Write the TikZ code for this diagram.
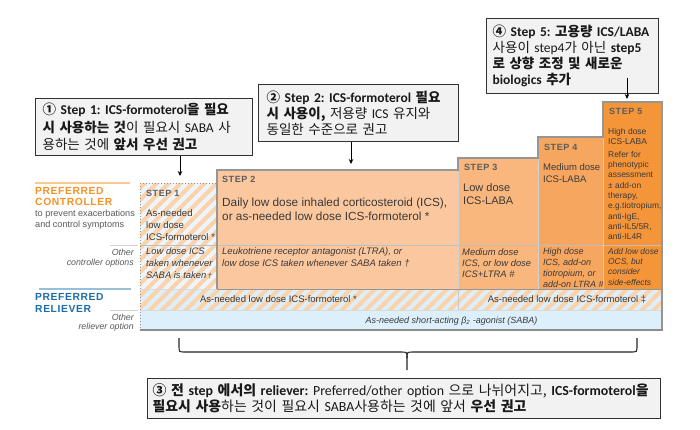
\documentclass[tikz,border=0pt]{standalone}
\usepackage{fontspec}
\setmainfont{Liberation Sans}
\newfontfamily\krf{Noto Sans CJK KR}
\newfontfamily\calf{Carlito}
\newfontfamily\spacedf[LetterSpace=6]{Liberation Sans}
\newcommand\K[1]{{\krf #1}}
\usetikzlibrary{arrows.meta}
\frenchspacing
\definecolor{s2}{RGB}{251,199,158}
\definecolor{s3}{RGB}{249,182,125}
\definecolor{s4}{RGB}{247,166,96}
\definecolor{s5}{RGB}{245,149,58}
\definecolor{stripe}{RGB}{251,210,170}
\definecolor{lblue}{RGB}{221,239,251}
\definecolor{pale}{RGB}{236,245,252}
\definecolor{ctrl}{RGB}{247,146,38}
\definecolor{relv}{RGB}{28,110,168}
\definecolor{txt}{RGB}{58,58,58}
\definecolor{stepg}{RGB}{92,92,92}
\definecolor{frame}{RGB}{150,150,150}
\definecolor{cfill}{RGB}{242,242,242}
\definecolor{cdraw}{RGB}{50,50,50}
\begin{document}
\frenchspacing
\begin{tikzpicture}[x=1pt,y=-1pt,
  callout/.style={draw=cdraw, line width=1.3pt, fill=cfill, anchor=north west, inner ysep=0pt, align=left, text=black!90},
  arr/.style={-{Stealth[length=5pt,width=4.5pt]}, line width=0.9pt, black},
  steplabel/.style={font=\spacedf\fontsize{9}{10}\selectfont\bfseries, text=stepg, anchor=west, inner sep=0pt},
  cell/.style={anchor=north west, inner sep=0pt, align=left, text=txt},
  rcell/.style={anchor=north east, inner sep=0pt, align=right, text=txt},
  stripeline/.style={stripe, line width=4pt}
]
\fill[white] (0,0) rectangle (700,429);
\useasboundingbox (0,0) rectangle (700,429);

% ---------- step fills ----------
\fill[s2] (217,170) rectangle (458,289);
\fill[s3] (458,158) rectangle (538,289);
\fill[s4] (538,137) rectangle (603,289);
\fill[s5] (603,102) rectangle (662,289);
\fill[lblue] (140,310) rectangle (662,330);
\begin{scope}
  \clip (140,183) rectangle (217,289) (140,289) rectangle (662,310);
  \fill[pale] (140,183) rectangle (217,289);
  \fill[lblue] (140,289) rectangle (662,310);
  \foreach \i in {-60,-48,...,680} \draw[stripeline] (\i,340) -- ++(170,-170);
\end{scope}

% ---------- grid lines ----------
\draw[black!25, line width=0.6pt] (140,245) -- (662,245);
\draw[black!18, line width=0.6pt] (538,137) -- (538,289) (603,102) -- (603,289) (458,158) -- (458,289);
\draw[black!22, line width=0.6pt] (458,289) -- (458,310);
\draw[frame, line width=0.8pt] (217,289) -- (662,289);
\draw[black!15, line width=0.6pt] (140,289) -- (217,289) (140,310) -- (662,310);
\draw[frame, line width=1.2pt] (217,289) -- (217,170) -- (458,170) -- (458,158) -- (538,158) -- (538,137) -- (603,137) -- (603,102) -- (662,102) -- (662,330);
\draw[black!45, line width=1.5pt] (140,330) -- (663,330);
\draw[frame, dotted, line width=1pt] (140,183) -- (140,330) (140,183) -- (217,183);

% ---------- left labels ----------
\draw[ctrl!50, line width=1.2pt] (35,183) -- (130,183);
\draw[black!18, line width=0.8pt] (110,245) -- (138,245) (110,310) -- (138,310);
\draw[relv!45, line width=1.2pt] (39,289) -- (131,289);
\node[cell, text=ctrl, font=\spacedf\fontsize{10.3}{11.5}\selectfont\bfseries] (lc) at (35,187) {PREFERRED\\CONTROLLER};
\node[cell, text=black!65, font=\fontsize{9.1}{11}\selectfont] (lcs) at (35,209.5) {to prevent exacerbations\\and control symptoms};
\node[rcell, text=black!65, font=\fontsize{8.8}{10.5}\selectfont\itshape] (lco) at (134,248.5) {Other\\controller options};
\node[cell, text=relv, font=\spacedf\fontsize{10.3}{11.5}\selectfont\bfseries] (lr) at (35,293.5) {PREFERRED\\RELIEVER};
\node[rcell, text=black!65, font=\fontsize{8.8}{9.8}\selectfont\itshape] (lro) at (134,313.5) {Other\\reliever option};

% ---------- step 1 ----------
\node[steplabel] (st1) at (146,193) {STEP 1};
\node[cell, font=\fontsize{9.6}{12}\selectfont] (t1) at (146,209.3) {As-needed\\low dose\\ICS-formoterol *};
\node[cell, font=\fontsize{9.4}{12}\selectfont\itshape] (o1) at (146,247.5) {Low dose ICS\\taken whenever\\SABA is taken\,{\scriptsize †}};

% ---------- step 2 ----------
\node[steplabel] (st2) at (222,179) {STEP 2};
\node[cell, font=\fontsize{11.8}{14}\selectfont] (t2) at (222,197.6) {Daily low dose inhaled corticosteroid (ICS),\\or as-needed low dose ICS-formoterol *};
\node[cell, font=\fontsize{9.5}{11.5}\selectfont\itshape] (o2) at (222,247.5) {Leukotriene receptor antagonist (LTRA), or\\low dose ICS taken whenever SABA taken †};

% ---------- step 3 ----------
\node[steplabel] (st3) at (464,167) {STEP 3};
\node[cell, font=\fontsize{11}{13}\selectfont] (t3) at (463,183) {Low dose\\ICS-LABA};
\node[cell, font=\fontsize{9.4}{11}\selectfont\itshape] (o3) at (462,248.5) {Medium dose\\ICS, or low dose\\ICS+LTRA \#};

% ---------- step 4 ----------
\node[steplabel] (st4) at (544,147) {STEP 4};
\node[cell, font=\fontsize{9.5}{12}\selectfont] (t4) at (543,163.5) {Medium dose\\ICS-LABA};
\node[cell, font=\fontsize{9}{11}\selectfont\itshape] (o4) at (543,247.6) {High dose\\ICS, add-on\\tiotropium, or\\add-on LTRA \#};

% ---------- step 5 ----------
\node[steplabel] (st5) at (609,111) {STEP 5};
\node[cell, font=\fontsize{8.5}{10}\selectfont] (t5) at (608,127.8) {High dose\\ICS-LABA};
\node[cell, font=\fontsize{8.4}{10.35}\selectfont] (r5) at (608,150.8) {Refer for\\phenotypic\\assessment\\± add-on\\therapy,\\e.g.tiotropium,\\anti-IgE,\\anti-IL5/5R,\\anti-IL4R};
\node[cell, font=\fontsize{8.4}{10.4}\selectfont\itshape] (o5) at (608,247.8) {Add low dose\\OCS, but\\consider\\side-effects};

% ---------- reliever rows ----------
\node[text=txt, inner sep=0pt, font=\fontsize{9.5}{11}\selectfont] (rv1) at (278.5,298.8) {As-needed low dose ICS-formoterol *};
\node[text=txt, inner sep=0pt, font=\fontsize{9.5}{11}\selectfont] (rv2) at (567,299) {As-needed low dose ICS-formoterol ‡};
\node[text=txt, inner sep=0pt, font=\fontsize{9}{11}\selectfont\itshape] (rv3) at (451.5,321.5) {As-needed short-acting β\textsubscript{2} -agonist (SABA)};

% ---------- callouts ----------
\node[callout, minimum width=217pt, minimum height=57pt, text width=203pt, inner xsep=7pt, font=\calf\fontsize{13.5}{17.5}\selectfont] (c1) at (35,98)
 {\textbf{\K{①} Step 1: ICS-formoterol\K{을 필요}}\\
  \textbf{\K{시 사용하는 것}}\K{이 필요시} SABA \K{사}\\
  \K{용하는 것에} \textbf{\K{앞서 우선 권고}}};
\node[callout, minimum width=200pt, minimum height=57pt, text width=184pt, inner xsep=8pt, font=\calf\fontsize{13.5}{15.8}\selectfont] (c2) at (258,84)
 {\textbf{\K{②} Step 2: ICS-formoterol \K{필요}}\\
  \textbf{\K{시 사용이,}} \K{저용량} ICS \K{유지와}\\
  \K{동일한 수준으로 권고}};
\node[callout, minimum width=172pt, minimum height=75pt, text width=160pt, inner xsep=6pt, font=\calf\fontsize{13.5}{16}\selectfont] (c4) at (486,18)
 {\mbox{\textbf{\K{④} Step 5: \K{고용량} ICS/LABA}}\\
  \K{사용이} step4\K{가 아닌} \textbf{step5}\\
  \textbf{\K{로 상향 조정 및 새로운}}\\
  \textbf{biologics \K{추가}}};
\node[callout, minimum width=513pt, minimum height=40pt, text width=503pt, inner xsep=5pt, font=\calf\fontsize{13.9}{16}\selectfont] (c3) at (147,378)
 {\mbox{\textbf{\K{③ 전} step \K{에서의} reliever:} Preferred/other option \K{으로 나뉘어지고,} \textbf{ICS-formoterol\K{을}}}\\
  \mbox{\textbf{\K{필요시 사용}}\K{하는 것이 필요시} SABA\K{사용하는 것에 앞서} \textbf{\K{우선 권고}}}};

% ---------- arrows ----------
\coordinate (a1) at (180,176);
\coordinate (a2) at (351,164);
\coordinate (a4s) at (627,78);
\coordinate (a4) at (627,99);
\draw[arr] (c1.south -| a1) -- (a1);
\draw[arr] (c2.south -| a2) -- (a2);
\draw[arr] (a4s) -- (a4);

% ---------- brace ----------
\coordinate (bl) at (179,338);
\coordinate (br) at (637,338);
\coordinate (bt) at (407,370);
\draw[line width=1.1pt, black!85] (bl) -- (179,346) .. controls (179,352) .. (185,352) -- (401,352) .. controls (407,352) .. (407,358) -- (bt);
\draw[line width=1.1pt, black!85] (407,358) .. controls (407,352) .. (413,352) -- (631,352) .. controls (637,352) .. (637,346) -- (br);
\end{tikzpicture}
\end{document}
